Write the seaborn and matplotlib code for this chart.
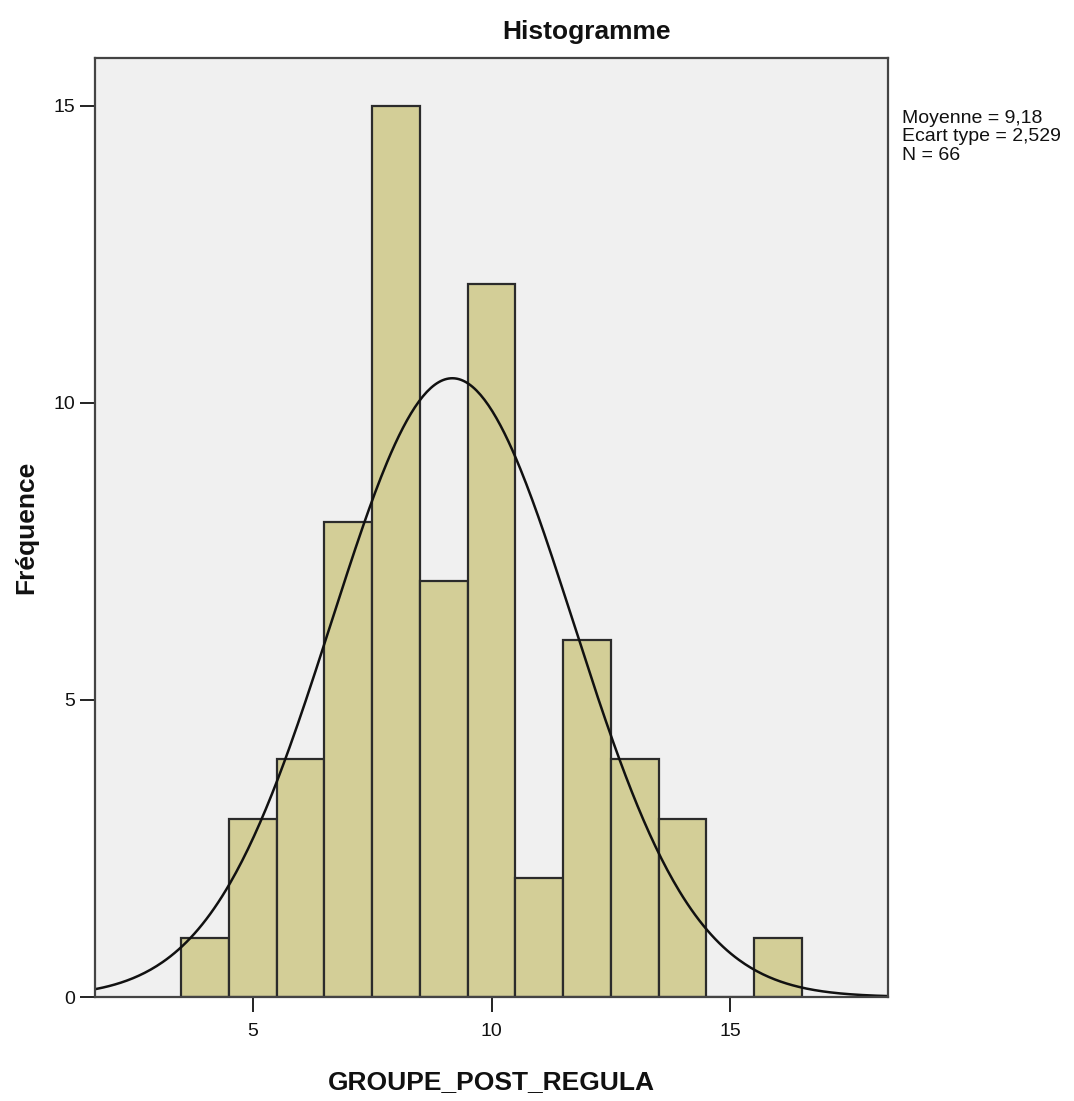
import numpy as np
import pandas as pd
import seaborn as sns
import matplotlib.pyplot as plt

# data (bin centres and counts)
valeurs = [4, 5, 6, 7, 8, 9, 10, 11, 12, 13, 14, 15, 16]
effectifs = [1, 3, 4, 8, 15, 7, 12, 2, 6, 4, 3, 0, 1]
moyenne = 9.18
ecart_type = 2.529
n_obs = 66

df = pd.DataFrame({'GROUPE_POST_REGULA': np.repeat(valeurs, effectifs)})

sns.set_style('white')
plt.rcParams['font.family'] = ['Liberation Sans', 'DejaVu Sans']

fig = plt.figure(figsize=(10.74, 11.01), dpi=100)
ax = fig.add_axes([95 / 1074, 104 / 1101, 793 / 1074, 939 / 1101])
ax.set_facecolor('#f0f0f0')

sns.histplot(data=df, x='GROUPE_POST_REGULA', bins=np.arange(3.5, 17.5, 1),
             color='#d3ce97', edgecolor='#2b2b2b', linewidth=1.6, alpha=1, ax=ax)

# normal curve scaled to counts
xs = np.linspace(1.7, 18.3, 400)
ys = n_obs * 1.0 / (ecart_type * np.sqrt(2 * np.pi)) * np.exp(-0.5 * ((xs - moyenne) / ecart_type) ** 2)
sns.lineplot(x=xs, y=ys, color='#111111', linewidth=1.8, ax=ax)

ax.set_xlim(1.7, 18.3)
ax.set_ylim(0, 15.8)
ax.set_xticks([5, 10, 15])
ax.set_yticks([0, 5, 10, 15])
ax.tick_params(axis='both', which='major', bottom=True, left=True, direction='out',
               length=11, width=1.4, labelsize=14, color='#222222', labelcolor='#111111')
ax.tick_params(axis='x', pad=8)
ax.tick_params(axis='y', pad=3)
for s in ax.spines.values():
    s.set_color('#444444')
    s.set_linewidth(1.6)

ax.set_xlabel('GROUPE_POST_REGULA', fontsize=19, fontweight='bold', color='#111111')
ax.set_ylabel('Fréquence', fontsize=19, fontweight='bold', color='#111111')
ax.xaxis.set_label_coords(0.5, -0.078)
ax.yaxis.set_label_coords(-0.072, 0.5)

fig.text(587 / 1074, 1 - 32 / 1101, 'Histogramme', ha='center', va='center',
         fontsize=19, fontweight='bold', color='#111111')
fig.text(902 / 1074, 1 - 110 / 1101,
         'Moyenne = 9,18\nEcart type = 2,529\nN = 66',
         ha='left', va='top', fontsize=14, linespacing=1.1, color='#111111')

plt.savefig('out.png', dpi=100)
